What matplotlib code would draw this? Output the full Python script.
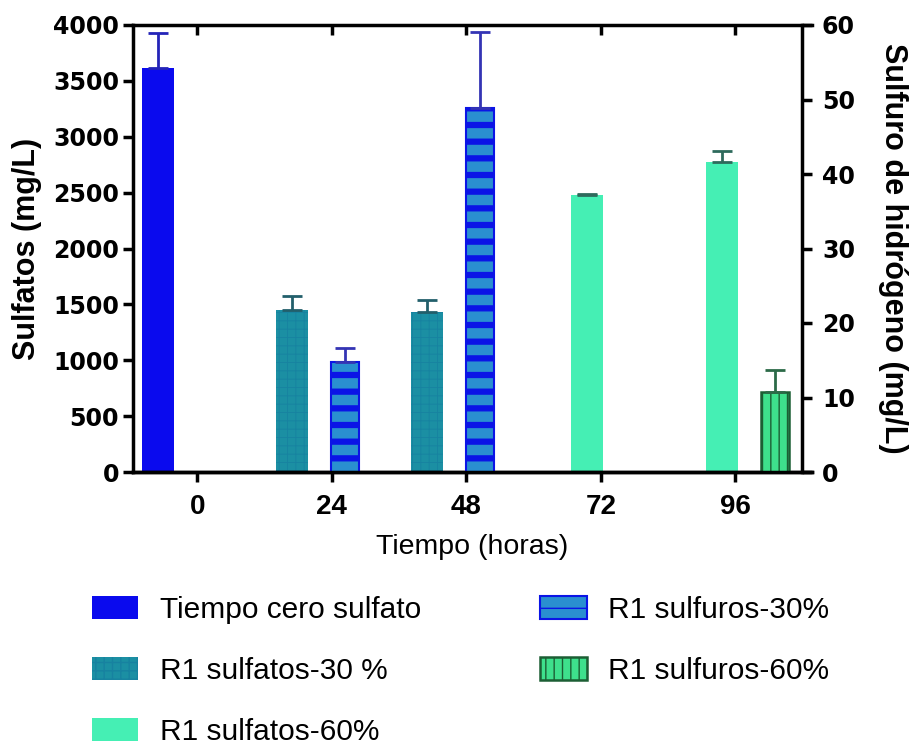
import matplotlib
matplotlib.use("Agg")
import matplotlib.pyplot as plt

plt.rcParams['font.family'] = ['Liberation Sans', 'DejaVu Sans']

# datos
tiempos = [0, 24, 48, 72, 96]
cero_t = [0]
cero_val = [3612]
cero_err = [315]

s30_t = [24, 48]
s30_val = [1450, 1435]
s30_err = [128, 104]

h30_t = [24, 48]
h30_val = [14.7, 48.8]
h30_err = [1.9, 10.2]

s60_t = [72, 96]
s60_val = [2479, 2771]
s60_err = [12, 104]

h60_t = [96]
h60_val = [10.7]
h60_err = [3.0]


def upper(err):
    return [[0] * len(err), err]


def off(ts, d):
    return [t + d for t in ts]


fig = plt.figure(figsize=(9.14, 7.44), dpi=100)
ax = fig.add_axes([133 / 914, 1 - 472 / 744, (812 - 133) / 914, (472 - 25) / 744])
ax2 = ax.twinx()

wS = 5.7
wH = 5.0
ekw = dict(fmt='none', elinewidth=2, capsize=7, capthick=2)

b0 = ax.bar(off(cero_t, -7.1), cero_val, width=wS, color='#0a0aee', linewidth=0,
            label='Tiempo cero sulfato')
ax.errorbar(off(cero_t, -7.1), cero_val, yerr=upper(cero_err), ecolor='#2424b8', **ekw)

b1 = ax.bar(off(s30_t, -7.1), s30_val, width=wS, facecolor='#1b8fa3', edgecolor='#1782a0',
            linewidth=0, hatch='++', label='R1 sulfatos-30 %')
for p in b1:
    if hasattr(p, 'set_hatch_linewidth'):
        p.set_hatch_linewidth(0.6)
ax.errorbar(off(s30_t, -7.1), s30_val, yerr=upper(s30_err), ecolor='#225f6b', **ekw)

b3 = ax.bar(off(s60_t, -2.4), s60_val, width=wS, color='#45efb4', linewidth=0,
            label='R1 sulfatos-60%')
ax.errorbar(off(s60_t, -2.4), s60_val, yerr=upper(s60_err), ecolor='#2e6a5c', **ekw)

b2 = ax2.bar(off(h30_t, 2.4), h30_val, width=wH, facecolor='#2a8fd0', edgecolor='#0b14e6',
             linewidth=1.5, hatch='-', label='R1 sulfuros-30%')
for p in b2:
    if hasattr(p, 'set_hatch_linewidth'):
        p.set_hatch_linewidth(4.5)
ax2.errorbar(off(h30_t, 2.4), h30_val, yerr=upper(h30_err), ecolor='#3434b4', **ekw)

b4 = ax2.bar(off(h60_t, 7.1), h60_val, width=wH, facecolor='#3ee08c', edgecolor='#1c5e34',
             linewidth=1.8, hatch='||', label='R1 sulfuros-60%')
ax2.errorbar(off(h60_t, 7.1), h60_val, yerr=upper(h60_err), ecolor='#2c6a48', **ekw)

ax.set_xlim(-11.5, 109.7)
ax.set_ylim(0, 4000)
ax2.set_ylim(0, 60)
ax.set_yticks(range(0, 4001, 500))
ax2.set_yticks(range(0, 61, 10))
ax.set_xticks(tiempos)
ax.set_xticklabels([str(t) for t in tiempos])

for a in (ax, ax2):
    for s in a.spines.values():
        s.set_linewidth(2.5)
ax.spines['right'].set_visible(False)
ax.spines['top'].set_visible(False)
ax2.spines['top'].set_visible(False)
ax2.spines['right'].set_position(('data', 108))
ax2.spines['left'].set_visible(False)

# eje superior con marcas hacia adentro
top = ax.secondary_xaxis('top')
top.set_xticks(tiempos)
top.tick_params(direction='in', length=7, width=2.5, labeltop=False)
top.spines['top'].set_linewidth(2.5)

ax.tick_params(axis='y', length=7, width=2.5, labelsize=17, pad=3)
ax.tick_params(axis='x', length=7, width=2.5, labelsize=20, pad=9)
ax2.tick_params(axis='y', length=7, width=2.5, labelsize=17, pad=7)
for lab in ax.get_xticklabels():
    lab.set_fontweight('bold')
for lab in ax.get_yticklabels() + ax2.get_yticklabels():
    lab.set_fontweight('bold')
    lab.set_family('DejaVu Sans')

ax.set_ylabel('Sulfatos (mg/L)', fontsize=22, fontweight='bold')
ax.yaxis.set_label_coords(-0.134, 0.5)
ax2.set_ylabel('Sulfuro de hidrógeno (mg/L)', fontsize=22, fontweight='bold',
               rotation=270, va='bottom', ha='center')
ax2.yaxis.set_label_coords(1.097, 0.5)
ax.set_xlabel('Tiempo (horas)', fontsize=20.5)
ax.xaxis.set_label_coords(0.5, -0.138)

fig.legend(handles=[b0, b1, b3, b2, b4], ncol=2, loc='upper left',
           bbox_to_anchor=(92 / 914, 1 - 596 / 744), frameon=False, fontsize=21.5,
           handlelength=1.55, handleheight=0.82, handletextpad=0.72,
           columnspacing=4.0, labelspacing=1.1, borderpad=0, borderaxespad=0)

fig.savefig('out.png', dpi=100)
